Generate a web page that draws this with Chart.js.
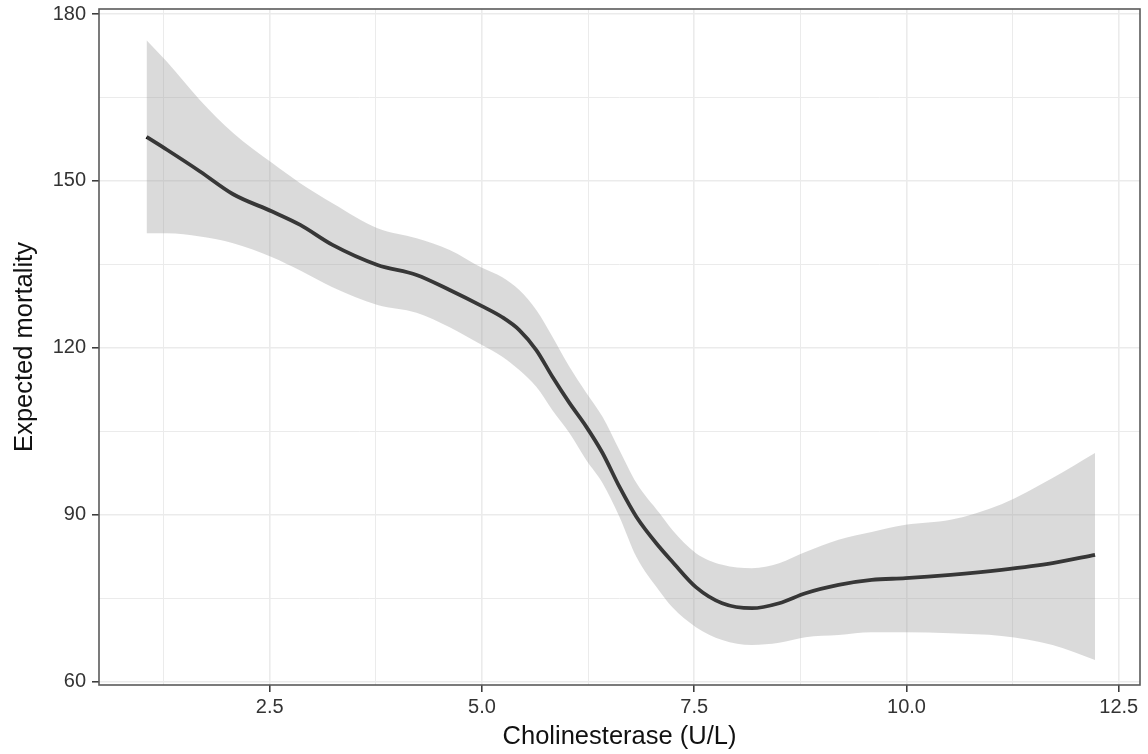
<!DOCTYPE html>
<html>
<head>
<meta charset="utf-8">
<title>Expected mortality vs cholinesterase</title>
<script src="https://cdn.jsdelivr.net/npm/chart.js@4.4.1/dist/chart.umd.min.js"></script>
<style>
  html, body { margin: 0; padding: 0; background: #fff; }
  #wrap { width: 1148px; height: 754px; position: relative; }
</style>
</head>
<body>
<div id="wrap"><canvas id="mortalityChart"></canvas></div>
<script>
// Cholinesterase (U/L) values along the fitted curve
const cholinesterase = [1.05, 1.29, 1.68, 2.07, 2.53, 2.86, 3.24, 3.77, 4.23, 4.62,
    5.0, 5.24, 5.44, 5.64, 5.83, 6.03, 6.23, 6.42, 6.62, 6.82,
    7.09, 7.24, 7.52, 7.83, 8.18, 8.5, 8.81, 9.2, 9.59, 9.99,
    10.52, 11.12, 11.72, 12.22];

// fitted expected mortality
const fitted = [157.9, 155.6, 151.7, 147.6, 144.5, 142.1, 138.5, 134.9, 133.1, 130.4,
    127.5, 125.5, 123.2, 119.6, 114.8, 110.1, 105.8, 101.1, 95.0, 89.6,
    84.2, 81.6, 77.0, 74.1, 73.2, 74.1, 75.9, 77.4, 78.3, 78.6,
    79.2, 80.1, 81.3, 82.8];

// confidence band
const upperCI = [175.3, 171.4, 164.5, 158.6, 153.2, 149.6, 146.0, 141.5, 139.7, 137.6,
    134.4, 132.7, 130.4, 126.8, 122.0, 116.6, 111.9, 107.6, 101.6, 95.7,
    90.3, 87.3, 83.1, 81.0, 80.4, 81.3, 83.3, 85.5, 86.9, 88.2,
    89.1, 91.9, 96.6, 101.1];
const lowerCI = [140.6, 140.6, 140.0, 138.8, 136.3, 133.9, 130.9, 127.7, 126.3, 123.7,
    120.5, 118.4, 116.0, 113.0, 108.8, 104.7, 99.8, 95.7, 89.6, 82.4,
    76.3, 73.4, 69.8, 67.5, 66.6, 67.0, 68.0, 68.4, 68.9, 68.9,
    68.7, 68.2, 66.6, 63.9];

// axis ticks
const xMajorTicks = [2.5, 5.0, 7.5, 10.0, 12.5];
const xMinorTicks = [1.25, 3.75, 6.25, 8.75, 11.25];
const yMajorTicks = [60, 90, 120, 150, 180];
const yMinorTicks = [75, 105, 135, 165];

const toPoints = (xs, ys) => xs.map((x, i) => ({ x: x, y: ys[i] }));

const GRID = "#ebebeb";
const INK = "#333333";
const FONT = "'Liberation Sans', Arial, Helvetica, sans-serif";

function gridFor(major) {
    return {
        color: GRID,
        lineWidth: ctx => major.includes(ctx.tick.value) ? 1.6 : 1,
        drawTicks: true,
        tickLength: 7,
        tickColor: ctx => major.includes(ctx.tick.value) ? INK : "rgba(0,0,0,0)",
        tickWidth: 1.5
    };
}

// panel border drawn on top of the data, like theme_bw
const panelBorder = {
    id: "panelBorder",
    afterDatasetsDraw(chart) {
        const a = chart.chartArea;
        const c = chart.ctx;
        c.save();
        c.strokeStyle = "#5a5a5a";
        c.lineWidth = 1.6;
        c.strokeRect(a.left, a.top, a.right - a.left, a.bottom - a.top);
        c.restore();
    }
};

const ctx = document.getElementById("mortalityChart").getContext("2d");
const chart = new Chart(ctx, {
    type: "line",
    data: {
        datasets: [
            {
                label: "lower",
                data: toPoints(cholinesterase, lowerCI),
                borderWidth: 0,
                borderColor: "rgba(0,0,0,0)",
                pointRadius: 0,
                fill: false,
                cubicInterpolationMode: "monotone"
            },
            {
                label: "upper",
                data: toPoints(cholinesterase, upperCI),
                borderWidth: 0,
                borderColor: "rgba(0,0,0,0)",
                backgroundColor: "rgba(153,153,153,0.36)",
                pointRadius: 0,
                fill: "-1",
                cubicInterpolationMode: "monotone"
            },
            {
                label: "Expected mortality",
                data: toPoints(cholinesterase, fitted),
                borderColor: "#000000",
                borderWidth: 3.8,
                pointRadius: 0,
                fill: false,
                cubicInterpolationMode: "monotone"
            }
        ]
    },
    options: {
        responsive: true,
        maintainAspectRatio: false,
        animation: false,
        devicePixelRatio: 1,
        layout: { padding: { top: 9, right: 8, left: 0, bottom: 0 } },
        plugins: {
            legend: { display: false },
            tooltip: { enabled: false }
        },
        scales: {
            x: {
                type: "linear",
                min: 0.49,
                max: 12.75,
                afterBuildTicks: scale => {
                    scale.ticks = xMinorTicks.concat(xMajorTicks).sort((a, b) => a - b).map(v => ({ value: v }));
                },
                afterFit: scale => {
                    scale.height = 69;
                    scale.paddingLeft = 0;
                    scale.paddingRight = 0;
                },
                grid: gridFor(xMajorTicks),
                border: { display: false },
                ticks: {
                    autoSkip: false,
                    maxRotation: 0,
                    padding: 3,
                    color: INK,
                    font: { family: FONT, size: 20 },
                    callback: v => xMajorTicks.includes(v) ? v.toFixed(1) : ""
                },
                title: {
                    display: true,
                    text: "Cholinesterase (U/L)",
                    color: "#111111",
                    font: { family: FONT, size: 25.5 },
                    padding: { top: 0, bottom: 2 }
                }
            },
            y: {
                type: "linear",
                min: 59.4,
                max: 180.9,
                afterBuildTicks: scale => {
                    scale.ticks = yMinorTicks.concat(yMajorTicks).sort((a, b) => a - b).map(v => ({ value: v }));
                },
                afterFit: scale => {
                    scale.width = 99;
                    scale.paddingTop = 0;
                    scale.paddingBottom = 0;
                },
                grid: gridFor(yMajorTicks),
                border: { display: false },
                ticks: {
                    autoSkip: false,
                    padding: 6,
                    color: INK,
                    font: { family: FONT, size: 20 },
                    callback: v => yMajorTicks.includes(v) ? String(v) : ""
                },
                title: {
                    display: true,
                    text: "Expected mortality",
                    color: "#111111",
                    font: { family: FONT, size: 25.5 },
                    padding: { top: 10, bottom: 0 }
                }
            }
        }
    },
    plugins: [panelBorder]
});
</script>
</body>
</html>
